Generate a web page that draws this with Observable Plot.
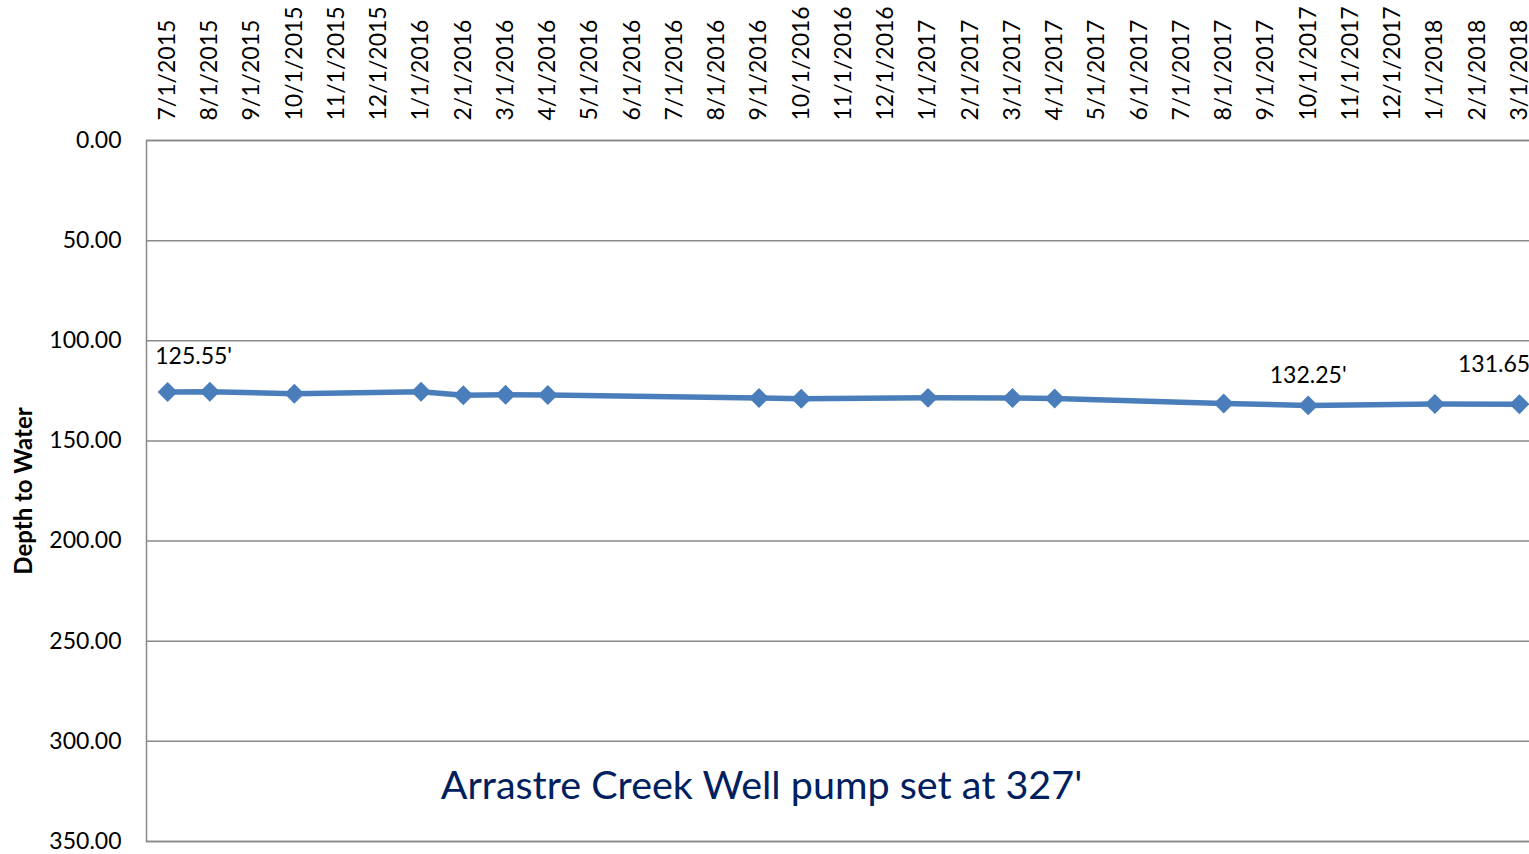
<!DOCTYPE html>
<html><head><meta charset="utf-8">
<script src="https://cdn.jsdelivr.net/npm/d3@7"></script>
<script src="https://cdn.jsdelivr.net/npm/@observablehq/plot@0.6"></script>
<style>
html,body{margin:0;padding:0;background:#fff;overflow:hidden;}
#chart svg{overflow:hidden;}
</style></head><body><div id="chart"></div>
<script>
const months = ["7/1/2015","8/1/2015","9/1/2015","10/1/2015","11/1/2015","12/1/2015",
  "1/1/2016","2/1/2016","3/1/2016","4/1/2016","5/1/2016","6/1/2016","7/1/2016","8/1/2016","9/1/2016","10/1/2016","11/1/2016","12/1/2016",
  "1/1/2017","2/1/2017","3/1/2017","4/1/2017","5/1/2017","6/1/2017","7/1/2017","8/1/2017","9/1/2017","10/1/2017","11/1/2017","12/1/2017",
  "1/1/2018","2/1/2018","3/1/2018"];
const obsDates = ["7/1/2015","8/1/2015","10/1/2015","1/1/2016","2/1/2016","3/1/2016","4/1/2016","9/1/2016","10/1/2016","1/1/2017","3/1/2017","4/1/2017","8/1/2017","10/1/2017","1/1/2018","3/1/2018"];
const depths = [125.55,125.4,126.4,125.4,127.2,127.0,127.1,128.6,128.9,128.5,128.6,128.8,131.3,132.25,131.6,131.65];
const yTicks = [0,50,100,150,200,250,300,350];
const labelDates = ["7/1/2015","10/1/2017","3/1/2018"];
const labelValues = [125.55,132.25,131.65];
const yTitle = "Depth to Water";
const note = "Arrastre Creek Well pump set at 327'";

const data = obsDates.map((d,i)=>({date:d, depth:depths[i]}));
const labels = labelDates.map((d,i)=>({date:d, depth:labelValues[i], text:labelValues[i].toFixed(2)+"'"}));
const font = "Lato, 'Open Sans', sans-serif";
const lbl = (i, dx, dy) => Plot.text([labels[i]], {x:"date", y:"depth", text:"text", dx, dy, fontSize:23, fill:"#000"});

const plot = Plot.plot({
  width:1529, height:854,
  marginLeft:146, marginRight:-11, marginTop:140, marginBottom:13,
  style:{fontFamily:font, fontSize:"23px", color:"#000", background:"#fff", overflow:"hidden"},
  x:{type:"point", domain:months, padding:0.5, round:false},
  y:{domain:[0,350], reverse:true},
  marks:[
    Plot.gridY(yTicks, {stroke:"#898989", strokeOpacity:1, strokeWidth:1.5}),
    Plot.frame({stroke:"#898989", strokeWidth:1.5}),
    Plot.axisX({anchor:"top", tickSize:0, tickPadding:20, tickRotate:-90, fontSize:23, label:null}),
    Plot.axisY(yTicks, {anchor:"left", tickSize:0, tickPadding:25, tickFormat:d3.format(".2f"), fontSize:23, label:null}),
    Plot.line(data, {x:"date", y:"depth", stroke:"#4a7ebb", strokeWidth:5.5}),
    Plot.dot(data, {x:"date", y:"depth", symbol:"diamond2", r:9, fill:"#4a7ebb", stroke:null}),
    lbl(0, 26, -35),
    lbl(1, 0, -30),
    lbl(2, -23, -40),
    Plot.text([yTitle], {frameAnchor:"left", rotate:-90, dx:-122, textAnchor:"middle", fontWeight:"bold", fontSize:24, fill:"#000"}),
    Plot.text([note], {frameAnchor:"bottom", dx:-82, dy:-43, fill:"#002060", fontSize:39.5})
  ]
});
document.getElementById("chart").appendChild(plot);
</script></body></html>
